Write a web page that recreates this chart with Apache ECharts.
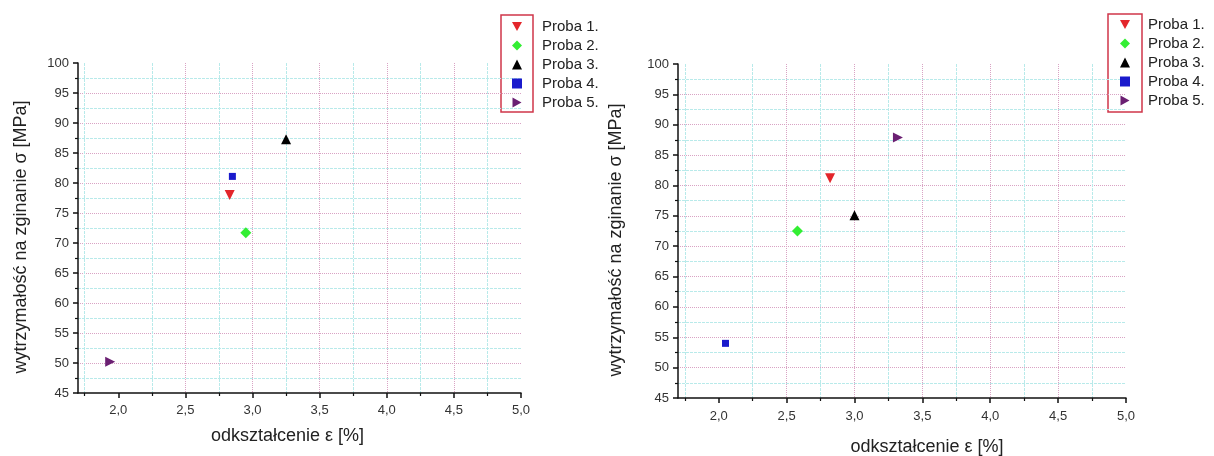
<!DOCTYPE html>
<html><head><meta charset="utf-8">
<script src="https://cdn.jsdelivr.net/npm/echarts@6/dist/echarts.min.js"></script>
<style>html,body{margin:0;padding:0;background:#fff}#c{width:1214px;height:456px}</style>
</head><body><div id="c"></div>
<script>
// ---- data ----
const seriesNames = ['Proba 1.', 'Proba 2.', 'Proba 3.', 'Proba 4.', 'Proba 5.'];
const leftStrain  = [2.83, 2.95, 3.25, 2.85, 1.94];
const leftStress  = [78.0, 71.7, 87.3, 81.1, 50.2];
const rightStrain = [2.82, 2.58, 3.00, 2.05, 3.32];
const rightStress = [81.2, 72.5, 75.1, 54.0, 87.9];
const xMajorTicks = [2.0, 2.5, 3.0, 3.5, 4.0, 4.5, 5.0];
const xMinorTicks = [1.75, 2.25, 2.75, 3.25, 3.75, 4.25, 4.75];
const xMin = 1.7, xMax = 5.0;
const yMin = 45, yMax = 100, yStep = 5;
const xTitle = 'odkształcenie ε [%]';
const yTitle = 'wytrzymałość na zginanie σ [MPa]';

// ---- styles ----
const symbols = ['triangle', 'diamond', 'triangle', 'rect', 'triangle'];
const rotations = [180, 0, 0, 0, -90];
const legendIcons = ['path://M0,0L10,0L5,9Z', 'diamond', 'triangle', 'rect', 'path://M0,0L9,5L0,10Z'];
const colors = ['#e3262b', '#33ee33', '#000000', '#1a1acc', '#6b1f72'];
const sizes = [10, 11, 10, 7, 10];
const FONT = 'Liberation Sans, Arial, sans-serif';
const pink = '#d9a3c4', cyan = '#b8eaea';
const fmt = v => v.toFixed(1).replace('.', ',');

function xAxes(gridIndex, titleGap, titlePad, labelMargin) {
  return [{
    type: 'value', gridIndex, min: xMin, max: xMax, position: 'bottom',
    axisLine: { show: true, lineStyle: { color: '#111', width: 1.5 } },
    axisTick: { show: true, inside: false, length: 5, customValues: xMajorTicks, lineStyle: { color: '#111', width: 1.5 } },
    axisLabel: { customValues: xMajorTicks, formatter: fmt, fontFamily: FONT, fontSize: 13, color: '#333', margin: labelMargin },
    splitLine: { show: true, showMinLine: false, showMaxLine: false, lineStyle: { color: pink, type: 'dotted', width: 1 } },
    name: xTitle, nameLocation: 'middle', nameGap: titleGap,
    nameTextStyle: { fontFamily: FONT, fontSize: 18, color: '#222', padding: titlePad }
  }, {
    type: 'value', gridIndex, min: xMin, max: xMax, position: 'bottom',
    axisLine: { show: false },
    axisTick: { show: true, inside: false, length: 3, customValues: xMinorTicks, lineStyle: { color: '#111', width: 1.2 } },
    axisLabel: { show: false },
    splitLine: { show: true, showMinLine: true, showMaxLine: true, lineStyle: { color: cyan, type: [3, 1], width: 1 } }
  }];
}
function yAxis(gridIndex, titleGap) {
  return {
    type: 'value', gridIndex, min: yMin, max: yMax, interval: yStep,
    axisLine: { show: true, lineStyle: { color: '#111', width: 1.5 } },
    axisTick: { show: true, inside: false, length: 5, lineStyle: { color: '#111', width: 1.5 } },
    minorTick: { show: true, splitNumber: 2, length: 3, lineStyle: { color: '#111', width: 1.2 } },
    axisLabel: { fontFamily: FONT, fontSize: 13, color: '#333', margin: 9 },
    splitLine: { show: true, showMinLine: false, showMaxLine: false, lineStyle: { color: pink, type: 'dotted', width: 1 } },
    minorSplitLine: { show: true, lineStyle: { color: cyan, type: [3, 1], width: 1 } },
    name: yTitle, nameLocation: 'middle', nameGap: titleGap,
    nameTextStyle: { fontFamily: FONT, fontSize: 18, color: '#222', padding: [0, 18, 0, 0] }
  };
}
function scatterSeries(xs, ys, xAxisIndex, yAxisIndex) {
  return seriesNames.map((name, i) => ({
    type: 'scatter', name, xAxisIndex, yAxisIndex,
    symbol: symbols[i], symbolRotate: rotations[i], symbolSize: sizes[i],
    itemStyle: { color: colors[i], opacity: 1 },
    data: [[xs[i], ys[i]]], z: 5
  }));
}
function legend(left, top, pad) {
  return {
    orient: 'vertical', left, top,
    data: seriesNames.map((name, i) => ({ name, icon: legendIcons[i], symbolRotate: 0 })),
    itemWidth: 10, itemHeight: 10, itemGap: 4,
    textStyle: { fontFamily: FONT, fontSize: 15, color: '#222', lineHeight: 14, padding: [0, 0, 0, pad] },
    selectedMode: false
  };
}

const chart = echarts.init(document.getElementById('c'), null, { renderer: 'canvas' });
chart.setOption({
  animation: false,
  backgroundColor: '#fff',
  grid: [
    { left: 78, right: 693, top: 63, bottom: 63, outerBoundsMode: 'none', containLabel: false },
    { left: 678, right: 88, top: 64, bottom: 58, outerBoundsMode: 'none', containLabel: false }
  ],
  xAxis: [...xAxes(0, 34, [0, 24, 0, 0], 11), ...xAxes(1, 40, [0, 0, 0, 50], 12)],
  yAxis: [yAxis(0, 48), yAxis(1, 53)],
  legend: [legend(507, 14, 15), legend(1115, 12, 13)],
  graphic: [
    { type: 'rect', shape: { x: 501, y: 15, width: 32, height: 97 }, style: { fill: 'none', stroke: '#d0364a', lineWidth: 1.5 } },
    { type: 'rect', shape: { x: 1108, y: 14, width: 34, height: 98 }, style: { fill: 'none', stroke: '#d0364a', lineWidth: 1.5 } }
  ],
  series: [...scatterSeries(leftStrain, leftStress, 0, 0), ...scatterSeries(rightStrain, rightStress, 2, 1)]
});
</script></body></html>
